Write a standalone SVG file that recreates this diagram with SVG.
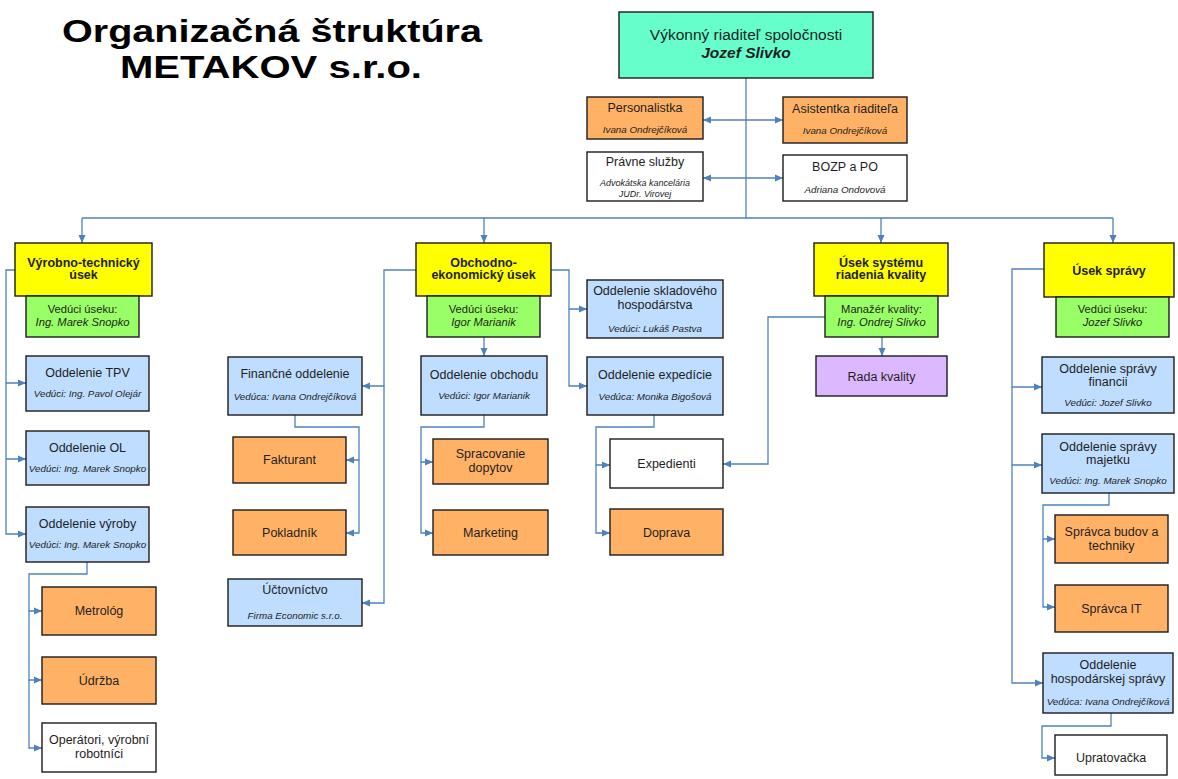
<svg xmlns="http://www.w3.org/2000/svg" width="1178" height="779" viewBox="0 0 1178 779">
<defs>
<style>
text{font-family:"Liberation Sans",Arial,sans-serif;fill:#1e1e1e;text-anchor:middle}
.ttl{font-size:31px;font-weight:bold;fill:#000}
.ceo{font-size:15.5px}
.t{font-size:12.5px}
.b{font-size:12.5px;font-weight:bold}
.g{font-size:11.2px}
.gi{font-size:11.2px;font-style:italic}
.s{font-size:9.8px;font-style:italic}
rect{stroke:#1c1c1c;stroke-width:1.4}
.cy{fill:#66FFCC}.or{fill:#FFB266}.ye{fill:#FFFF00}.gr{fill:#99FF66}.bl{fill:#BFDDFF}.pu{fill:#DCB9FF}.wh{fill:#FFFFFF}
.c path{fill:none;stroke:#4F81BD;stroke-width:1.3}
</style>
<marker id="a" markerWidth="8" markerHeight="8" refX="8" refY="4" orient="auto" markerUnits="userSpaceOnUse"><path d="M0,0.5 L8,4 L0,7.5 z" fill="#4F81BD"/></marker>
</defs>
<rect x="0" y="0" width="1178" height="779" fill="#fff" style="stroke:none"/>
<g id="title">
<text class="ttl" x="272" y="42" textLength="420" lengthAdjust="spacingAndGlyphs">Organizačná štruktúra</text>
<text class="ttl" x="271" y="78" textLength="302" lengthAdjust="spacingAndGlyphs">METAKOV s.r.o.</text>
</g>
<g class="c" id="connectors">
<path d="M746 78 V218"/>
<path d="M746 120 H703" marker-end="url(#a)"/>
<path d="M746 120 H783" marker-end="url(#a)"/>
<path d="M746 178 H703" marker-end="url(#a)"/>
<path d="M746 178 H783" marker-end="url(#a)"/>
<path d="M82 218 H1113"/>
<path d="M82 218 V243" marker-end="url(#a)"/>
<path d="M484 218 V243" marker-end="url(#a)"/>
<path d="M881 218 V243" marker-end="url(#a)"/>
<path d="M1113 218 V243" marker-end="url(#a)"/>
<path d="M15 270 H6 V383 H26" marker-end="url(#a)"/>
<path d="M6 383 V459 H26" marker-end="url(#a)"/>
<path d="M6 459 V534 H26" marker-end="url(#a)"/>
<path d="M87 562 V574 H29 V611 H42" marker-end="url(#a)"/>
<path d="M29 611 V680 H42" marker-end="url(#a)"/>
<path d="M29 680 V748 H42" marker-end="url(#a)"/>
<path d="M416 270 H384 V386 H362" marker-end="url(#a)"/>
<path d="M384 386 V603 H362" marker-end="url(#a)"/>
<path d="M295 415 V427 H359 V460 H346" marker-end="url(#a)"/>
<path d="M359 460 V533 H346" marker-end="url(#a)"/>
<path d="M484 337 V356" marker-end="url(#a)"/>
<path d="M484 415 V427 H421 V462 H433" marker-end="url(#a)"/>
<path d="M421 462 V533 H433" marker-end="url(#a)"/>
<path d="M551 270 H569 V309 H587" marker-end="url(#a)"/>
<path d="M569 309 V386 H587" marker-end="url(#a)"/>
<path d="M654 415 V427 H596 V465 H610" marker-end="url(#a)"/>
<path d="M596 465 V533 H610" marker-end="url(#a)"/>
<path d="M882 337 V356" marker-end="url(#a)"/>
<path d="M825 317 H768 V464 H723" marker-end="url(#a)"/>
<path d="M1044 269 H1012 V387 H1042" marker-end="url(#a)"/>
<path d="M1012 387 V465 H1042" marker-end="url(#a)"/>
<path d="M1012 465 V683 H1043" marker-end="url(#a)"/>
<path d="M1109 493 V505 H1043 V539 H1055" marker-end="url(#a)"/>
<path d="M1043 539 V607 H1055" marker-end="url(#a)"/>
<path d="M1111 713 V726 H1042 V758 H1055" marker-end="url(#a)"/>
</g>
<g id="ceo"><rect class="cy" x="619" y="12" width="254" height="66"/><text class="ceo" x="746" y="40">Výkonný riaditeľ spoločnosti</text><text class="ceo" x="746" y="58" font-weight="bold" font-style="italic">Jozef Slivko</text></g>
<g id="personalistka"><rect class="or" x="587" y="97" width="116" height="42"/><text class="t" x="645" y="112">Personalistka</text><text class="s" x="645" y="133">Ivana Ondrejčíková</text></g>
<g id="asistentka"><rect class="or" x="783" y="97" width="124" height="46"/><text class="t" x="845" y="113">Asistentka riaditeľa</text><text class="s" x="845" y="134">Ivana Ondrejčíková</text></g>
<g id="pravne"><rect class="wh" x="587" y="152" width="116" height="49"/><text class="t" x="645" y="166">Právne služby</text><text class="s" x="645" y="186" style="font-size:9px">Advokátska kancelária</text><text class="s" x="645" y="197" style="font-size:9px">JUDr. Virovej</text></g>
<g id="bozp"><rect class="wh" x="783" y="155" width="124" height="46"/><text class="t" x="845" y="171">BOZP a PO</text><text class="s" x="845" y="193">Adriana Ondovová</text></g>

<g id="vyrobno"><rect class="ye" x="15" y="243" width="137" height="53"/><text class="b" x="83.5" y="267">Výrobno-technický</text><text class="b" x="83.5" y="279">úsek</text></g>
<g id="vyrobno-veduci"><rect class="gr" x="26" y="296" width="113" height="41"/><text class="g" x="82.5" y="313">Vedúci úseku:</text><text class="gi" x="82.5" y="326">Ing. Marek Snopko</text></g>
<g id="tpv"><rect class="bl" x="26" y="356" width="123" height="55"/><text class="t" x="87.5" y="377">Oddelenie TPV</text><text class="s" x="87.5" y="397">Vedúci: Ing. Pavol Olejár</text></g>
<g id="ol"><rect class="bl" x="26" y="431" width="123" height="54"/><text class="t" x="87.5" y="452">Oddelenie OL</text><text class="s" x="87.5" y="472">Vedúci: Ing. Marek Snopko</text></g>
<g id="vyroba"><rect class="bl" x="26" y="507" width="123" height="55"/><text class="t" x="87.5" y="528">Oddelenie výroby</text><text class="s" x="87.5" y="548">Vedúci: Ing. Marek Snopko</text></g>
<g id="metrolog"><rect class="or" x="42" y="587" width="114" height="48"/><text class="t" x="99" y="615">Metrológ</text></g>
<g id="udrzba"><rect class="or" x="42" y="657" width="114" height="47"/><text class="t" x="99" y="685">Údržba</text></g>
<g id="operatori"><rect class="wh" x="42" y="723" width="114" height="49"/><text class="t" x="99" y="744">Operátori, výrobní</text><text class="t" x="99" y="758">robotníci</text></g>

<g id="obchodno"><rect class="ye" x="416" y="243" width="135" height="53"/><text class="b" x="483.5" y="267">Obchodno-</text><text class="b" x="483.5" y="279">ekonomický úsek</text></g>
<g id="obchodno-veduci"><rect class="gr" x="427" y="296" width="113" height="41"/><text class="g" x="483.5" y="313">Vedúci úseku:</text><text class="gi" x="483.5" y="326">Igor Marianik</text></g>
<g id="obchod"><rect class="bl" x="421" y="356" width="126" height="59"/><text class="t" x="484" y="379">Oddelenie obchodu</text><text class="s" x="484" y="399">Vedúci: Igor Marianik</text></g>
<g id="financne"><rect class="bl" x="228" y="357" width="134" height="58"/><text class="t" x="295" y="378">Finančné oddelenie</text><text class="s" x="295" y="400">Vedúca: Ivana Ondrejčíková</text></g>
<g id="fakturant"><rect class="or" x="233" y="437" width="113" height="46"/><text class="t" x="289.5" y="464">Fakturant</text></g>
<g id="pokladnik"><rect class="or" x="233" y="510" width="113" height="45"/><text class="t" x="289.5" y="537">Pokladník</text></g>
<g id="uctovnictvo"><rect class="bl" x="228" y="579" width="134" height="47"/><text class="t" x="295" y="594">Účtovníctvo</text><text class="s" x="295" y="619">Firma Economic s.r.o.</text></g>
<g id="spracovanie"><rect class="or" x="433" y="439" width="115" height="45"/><text class="t" x="490.5" y="458">Spracovanie</text><text class="t" x="490.5" y="472">dopytov</text></g>
<g id="marketing"><rect class="or" x="433" y="510" width="115" height="45"/><text class="t" x="490.5" y="537">Marketing</text></g>
<g id="sklad"><rect class="bl" x="587" y="280" width="136" height="58"/><text class="t" x="655" y="295">Oddelenie skladového</text><text class="t" x="655" y="309">hospodárstva</text><text class="s" x="655" y="332">Vedúci: Lukáš Pastva</text></g>
<g id="expedicia"><rect class="bl" x="587" y="357" width="136" height="58"/><text class="t" x="655" y="379">Oddelenie expedície</text><text class="s" x="655" y="400">Vedúca: Monika Bigošová</text></g>
<g id="expedienti"><rect class="wh" x="610" y="439" width="113" height="49"/><text class="t" x="666.5" y="468">Expedienti</text></g>
<g id="doprava"><rect class="or" x="610" y="509" width="113" height="46"/><text class="t" x="666.5" y="537">Doprava</text></g>

<g id="kvalita"><rect class="ye" x="814" y="243" width="134" height="53"/><text class="b" x="881" y="267">Úsek systému</text><text class="b" x="881" y="279">riadenia kvality</text></g>
<g id="kvalita-manazer"><rect class="gr" x="825" y="296" width="113" height="41"/><text class="g" x="881.5" y="313">Manažér kvality:</text><text class="gi" x="881.5" y="326">Ing. Ondrej Slivko</text></g>
<g id="rada"><rect class="pu" x="816" y="356" width="131" height="40"/><text class="t" x="881.5" y="381">Rada kvality</text></g>

<g id="sprava"><rect class="ye" x="1044" y="243" width="130" height="54"/><text class="b" x="1109" y="275">Úsek správy</text></g>
<g id="sprava-veduci"><rect class="gr" x="1056" y="297" width="113" height="40"/><text class="g" x="1112.5" y="313">Vedúci úseku:</text><text class="gi" x="1112.5" y="326">Jozef Slivko</text></g>
<g id="financie"><rect class="bl" x="1042" y="357" width="132" height="56"/><text class="t" x="1108" y="373">Oddelenie správy</text><text class="t" x="1108" y="386">financii</text><text class="s" x="1108" y="406">Vedúci: Jozef Slivko</text></g>
<g id="majetok"><rect class="bl" x="1042" y="434" width="132" height="59"/><text class="t" x="1108" y="451">Oddelenie správy</text><text class="t" x="1108" y="464">majetku</text><text class="s" x="1108" y="484">Vedúci: Ing. Marek Snopko</text></g>
<g id="budovy"><rect class="or" x="1055" y="515" width="113" height="48"/><text class="t" x="1111.5" y="536">Správca budov a</text><text class="t" x="1111.5" y="550">techniky</text></g>
<g id="it"><rect class="or" x="1055" y="585" width="113" height="47"/><text class="t" x="1111.5" y="613">Správca IT</text></g>
<g id="hospodarska"><rect class="bl" x="1043" y="653" width="130" height="60"/><text class="t" x="1108" y="669">Oddelenie</text><text class="t" x="1108" y="683">hospodárskej správy</text><text class="s" x="1108" y="705">Vedúca: Ivana Ondrejčíková</text></g>
<g id="upratovacka"><rect class="wh" x="1055" y="735" width="112" height="40"/><text class="t" x="1111" y="762">Upratovačka</text></g>
</svg>
